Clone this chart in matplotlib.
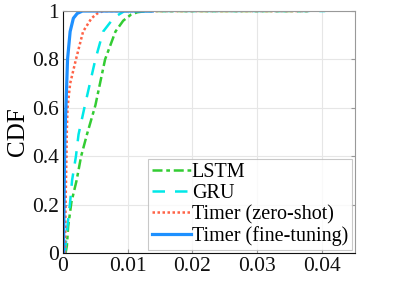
import numpy as np
import matplotlib
matplotlib.use("Agg")
import matplotlib.pyplot as plt

# CDF curves (x = error, y = cumulative fraction)
lstm_x = [0.0004, 0.0006, 0.0008, 0.0013, 0.0021, 0.0028, 0.0037, 0.0050,
          0.0065, 0.0081, 0.0093, 0.0105, 0.0115, 0.0130, 0.0378]
lstm_y = [0.0, 0.03, 0.11, 0.21, 0.30, 0.40, 0.49, 0.61,
          0.80, 0.915, 0.96, 0.985, 0.995, 1.0, 1.0]

gru_x = [0.0003, 0.0007, 0.0011, 0.0014, 0.0020, 0.0024, 0.0033, 0.0050,
         0.0062, 0.0075, 0.0083, 0.0095, 0.0405]
gru_y = [0.0, 0.115, 0.21, 0.30, 0.40, 0.49, 0.60, 0.80,
         0.915, 0.96, 0.98, 1.0, 1.0]

zs_x = [0.0003, 0.0004, 0.0006, 0.0007, 0.0011, 0.0020, 0.0031, 0.0044,
        0.0053, 0.0062, 0.0378]
zs_y = [0.0, 0.20, 0.51, 0.60, 0.70, 0.80, 0.915, 0.97,
        0.99, 1.0, 1.0]

ft_x = [0.0001, 0.0001, 0.0002, 0.0003, 0.00046, 0.0007, 0.0011, 0.0016,
        0.0022, 0.0030, 0.0138]
ft_y = [0.0, 0.05, 0.30, 0.49, 0.61, 0.80, 0.915, 0.97,
        0.99, 1.0, 1.0]

xticks = [0, 0.01, 0.02, 0.03, 0.04]
xticklabels = ["0", "0.01", "0.02", "0.03", "0.04"]
yticks = [0, 0.2, 0.4, 0.6, 0.8, 1]
yticklabels = ["0", "0.2", "0.4", "0.6", "0.8", "1"]

plt.rcParams.update({
    "font.family": "Liberation Serif",
    "font.size": 15,
})

fig = plt.figure(figsize=(3.95, 2.86), dpi=100)
ax = fig.add_axes([0.1595, 0.1154, 0.7392, 0.8461])

ax.plot(lstm_x, lstm_y, color="#33cc33", lw=1.8, ls=(0, (4, 1.5, 1.5, 1.5)), label="LSTM")
ax.plot(gru_x, gru_y, color="#00e8e8", lw=1.8, ls=(0, (5, 4)), label="GRU")
ax.plot(zs_x, zs_y, color="#ff6347", lw=1.8, ls=(0, (1, 1)), label="Timer (zero-shot)")
ax.plot(ft_x, ft_y, color="#1e90ff", lw=2.3, label="Timer (fine-tuning)")

ax.set_xlim(0, 0.0451)
ax.set_ylim(0, 1)
ax.set_xticks(xticks)
ax.set_xticklabels(xticklabels)
ax.set_yticks(yticks)
ax.set_yticklabels(yticklabels)
ax.set_ylabel("CDF", fontsize=18, labelpad=2)
ax.grid(True, color="#e6e6e6", lw=0.8)
ax.set_axisbelow(True)
ax.tick_params(direction="in", length=3, right=True, top=False, width=0.8,
               labelsize=15.5, pad=3)
ax.tick_params(axis="y", colors="#999999", labelcolor="#111111")
ax.tick_params(axis="x", colors="#999999", labelcolor="#111111")
for side in ("top", "right"):
    ax.spines[side].set_color("#999999")
for side in ("left", "bottom"):
    ax.spines[side].set_color("#111111")

leg = ax.legend(loc="lower right", fontsize=14.5, frameon=True, fancybox=False,
                borderaxespad=0.15, handlelength=1.9, handletextpad=0.05,
                labelspacing=0.1, borderpad=0.2)
leg.get_frame().set_edgecolor("#bbbbbb")
leg.get_frame().set_linewidth(0.8)

fig.savefig("out.png", dpi=100)
